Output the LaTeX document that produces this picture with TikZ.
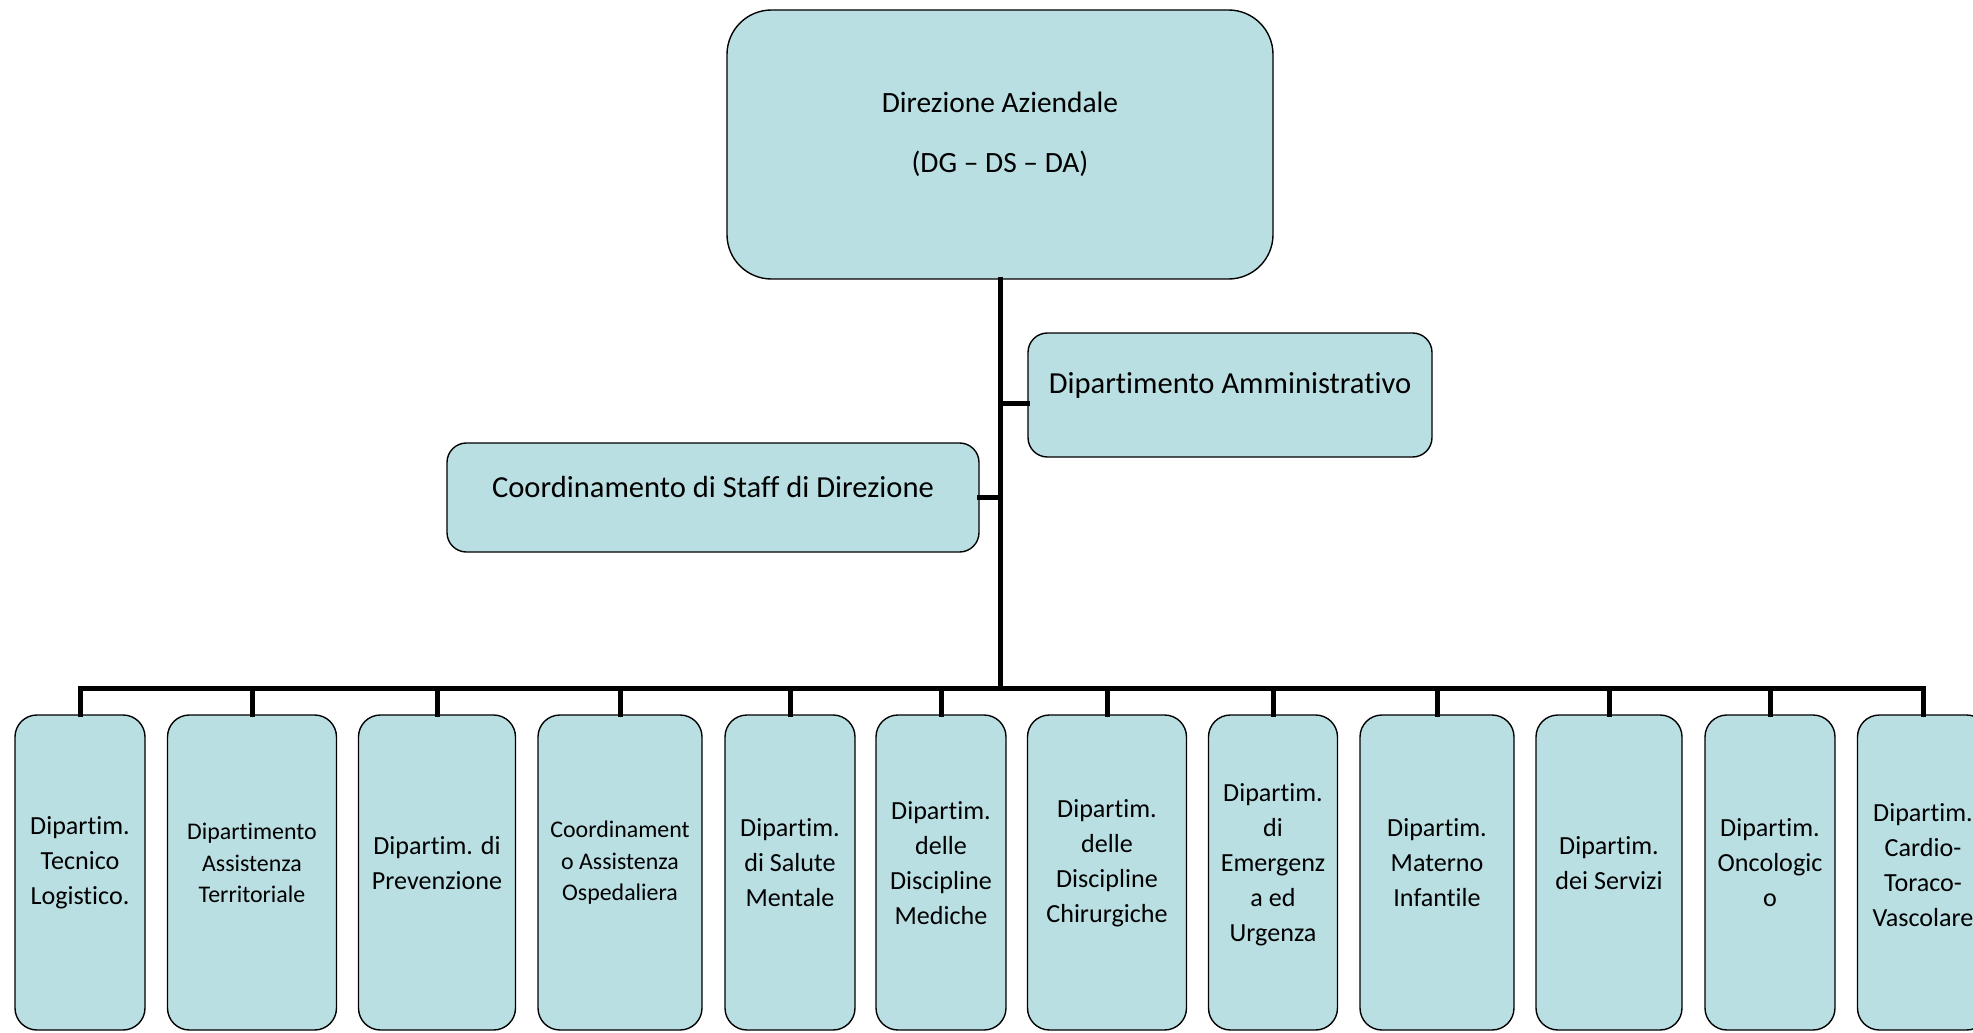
\documentclass[tikz,border=0pt]{standalone}
\usepackage{fontspec}
\setmainfont{Carlito}[Ligatures=CommonOff]
\definecolor{boxfill}{RGB}{185,223,227}
\begin{document}
\begin{tikzpicture}[x=0.36pt,y=-0.36pt,
  box/.style={draw=black, line width=0.5pt, fill=boxfill, inner sep=0pt},
  headbox/.style={box, rounded corners=16pt},
  midbox/.style={box, rounded corners=7pt},
  lowbox/.style={box, rounded corners=7.9pt, minimum height=315*0.36pt},
  wire/.style={draw=black, line width=1.8pt, line cap=rect, line join=miter},
  midtxt/.style={font=\fontsize{11}{13.2}\selectfont, align=center, inner sep=0pt},
  lowtxt/.style={font=\fontsize{9.4}{12.6}\selectfont, align=center, inner sep=0pt},
  smalltxt/.style={font=\fontsize{8.6}{11.3}\selectfont, align=center, inner sep=0pt}]
\useasboundingbox (0,0) rectangle (1973,1033);

% top management
\node[headbox, minimum width=546*0.36pt, minimum height=269*0.36pt] (dir) at (1000,144.5) {};
\node[midtxt, font=\fontsize{10.6}{13}\selectfont] (dirtxt) at (1000,134.5) {Direzione Aziendale\\[8.8pt](DG – DS – DA)};

% staff units beside the trunk
\node[midbox, minimum width=404*0.36pt, minimum height=124*0.36pt] (adm) at (1230,395) {};
\node[midtxt] (admtxt) at (1230,385) {Dipartimento Amministrativo};
\node[midbox, minimum width=532*0.36pt, minimum height=109*0.36pt] (stf) at (713,497.5) {};
\node[midtxt] (stftxt) at (713,487) {Coordinamento di Staff di Direzione};

% departments
\foreach \n/\cx/\w in {1/80/130, 2/252/169, 3/437/157, 4/620/164, 5/790/130, 6/941/130,
                       7/1107/159, 8/1273/129, 9/1437/154, 10/1609/146, 11/1770/130, 12/1923/131}
  \node[lowbox, minimum width=\w*0.36pt] (d\n) at (\cx,872.5) {};

\node[lowtxt]   (t1)  at (d1 |- 0,863)  {Dipartim.\\Tecnico\\Logistico.};
\node[smalltxt] (t2)  at (d2 |- 0,863)  {Dipartimento\\Assistenza\\Territoriale};
\node[lowtxt]   (t3)  at (d3 |- 0,863)  {Dipartim. di\\Prevenzione};
\node[smalltxt] (t4)  at (d4 |- 0,863)  {Coordinament\\o Assistenza\\Ospedaliera};
\node[lowtxt]   (t5)  at (d5 |- 0,863)  {Dipartim.\\di Salute\\Mentale};
\node[lowtxt]   (t6)  at (d6 |- 0,863)  {Dipartim.\\delle\\Discipline\\Mediche};
\node[lowtxt]   (t7)  at (d7 |- 0,863)  {Dipartim.\\delle\\Discipline\\Chirurgiche};
\node[lowtxt]   (t8)  at (d8 |- 0,865)  {Dipartim.\\di\\Emergenz\\a ed\\Urgenza};
\node[lowtxt]   (t9)  at (d9 |- 0,863)  {Dipartim.\\Materno\\Infantile};
\node[lowtxt]   (t10) at (d10 |- 0,863) {Dipartim.\\dei Servizi};
\node[lowtxt]   (t11) at (d11 |- 0,863) {Dipartim.\\Oncologic\\o};
\node[lowtxt]   (t12) at (d12 |- 0,865) {Dipartim.\\Cardio-\\Toraco-\\Vascolare};

% connectors
\coordinate (bus) at (1000,688);
\draw[wire] (dir.south) -- (bus);
\draw[wire] ([yshift=-2.9pt]adm.west) -- ([yshift=-2.9pt]adm.west -| bus);
\draw[wire] (stf.east) -- (stf.east -| bus);
\draw[wire] (d1.north) |- (bus) -| (d12.north);
\foreach \n in {2,...,11}
  \draw[wire] (d\n.north) -- (d\n.north |- bus);
\end{tikzpicture}
\end{document}
